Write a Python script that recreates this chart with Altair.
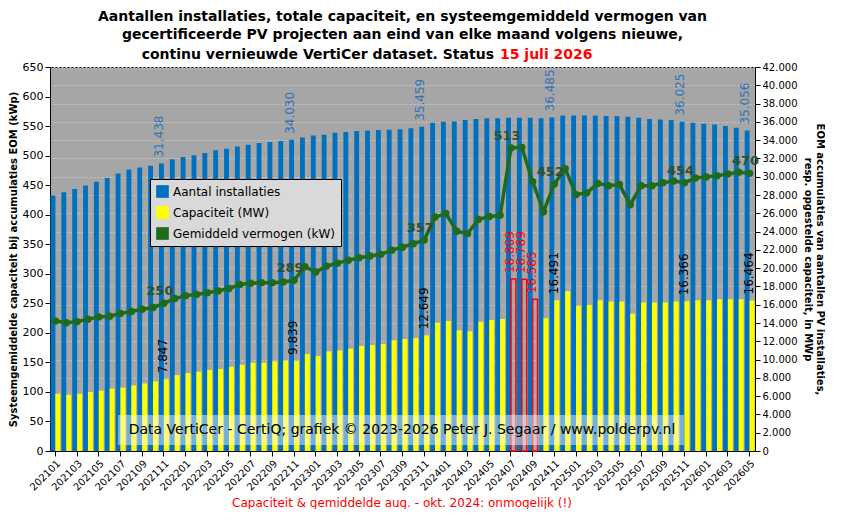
import pandas as pd
import altair as alt

# ── data ──────────────────────────────────────────────────────────────────────
months = [f"{y}{m:02d}" for y in range(2021, 2027) for m in range(1, 13)][:65]

installs = [
    27950, 28300, 28650, 29050, 29450, 29850, 30350, 30800, 31000, 31200, 31438, 31900,
    32150, 32350, 32600, 32900, 33050, 33300, 33500, 33700, 33800, 33900, 34030, 34300,
    34500, 34600, 34800, 34900, 35000, 35050, 35100, 35150, 35200, 35300, 35459, 35900,
    36000, 36050, 36200, 36300, 36400, 36400, 36450, 36450, 36450, 36400, 36485, 36700,
    36700, 36700, 36700, 36650, 36600, 36550, 36450, 36300, 36250, 36200, 36025, 35900,
    35800, 35700, 35550, 35350, 35056,
]

capacity = [
    6260, 6150, 6260, 6450, 6600, 6830, 6940, 7170, 7400, 7620, 7847, 8300,
    8530, 8680, 8870, 8980, 9210, 9430, 9660, 9660, 9810, 9890, 9839, 10600,
    10400, 10900, 11000, 11200, 11500, 11600, 11700, 12100, 12250, 12350, 12649, 14030,
    14220, 13200, 13090, 14150, 14340, 14450, 18809, 18789, 16585, 14530, 16491, 17470,
    15850, 15960, 16490, 16340, 16340, 15020, 16230, 16230, 16230, 16340, 16366, 16490,
    16490, 16600, 16600, 16600, 16464,
]

avg_kw = [
    220, 217, 219, 223, 227, 228, 233, 236, 240, 243, 250, 258,
    263, 265, 268, 271, 275, 282, 284, 285, 285, 286, 289, 312,
    303, 313, 318, 323, 327, 330, 333, 340, 345, 351, 357, 396,
    402, 372, 368, 392, 397, 399, 513, 514, 456, 405, 452, 478,
    434, 437, 453, 449, 451, 417, 449, 449, 454, 457, 454, 462,
    464, 466, 469, 472, 470,
]

unreliable = ["202407", "202408", "202409"]
label_months = ["202111", "202211", "202311", "202411", "202511", "202605"]
line_label_months = label_months + ["202407"]

S_CNT = "Aantal installaties"
S_CAP = "Capaciteit (MW)"
S_AVG = "Gemiddeld vermogen (kW)"

# ── tables ────────────────────────────────────────────────────────────────────
df = pd.DataFrame({"month": months, "installs": installs,
                   "capacity": capacity, "avg": avg_kw})
df["bad"] = df["month"].isin(unreliable)

bars = pd.concat([
    pd.DataFrame({"month": df.month, "value": df.installs, "series": S_CNT, "slot": "a", "bad": False}),
    pd.DataFrame({"month": df.month, "value": df.capacity, "series": S_CAP, "slot": "b", "bad": df.bad}),
], ignore_index=True)
avg_df = df.assign(series=S_AVG)

FONT = "DejaVu Sans"
BLUE, YELLOW, GREEN = "#0070c0", "#ffff00", "#1e6b1e"

colour = alt.Color("series:N",
                   scale=alt.Scale(domain=[S_CNT, S_CAP, S_AVG], range=[BLUE, YELLOW, GREEN]),
                   legend=alt.Legend(title=None, orient="none", legendX=100, legendY=112,
                                     fillColor="#d9d9d9", strokeColor="black", padding=6,
                                     labelFont=FONT, labelFontSize=12, labelColor="black",
                                     symbolType="square", symbolSize=160, symbolStrokeWidth=0,
                                     rowPadding=8, labelLimit=300))

x = alt.X("month:O", title=None, scale=alt.Scale(paddingInner=0.1, paddingOuter=0.05),
          axis=alt.Axis(values=months[::2], labelAngle=-45, labelFont=FONT, labelFontSize=10,
                        labelColor="black", tickColor="black", domainColor="black"))
xoff = alt.XOffset("slot:N", scale=alt.Scale(domain=["a", "b"], paddingInner=0))

y_right = alt.Y("value:Q", scale=alt.Scale(domain=[0, 42000]),
                axis=alt.Axis(orient="right", values=list(range(0, 42001, 2000)),
                              labelExpr="replace(format(datum.value, ','), ',', '.')",
                              labelFont=FONT, labelFontSize=10,
                              labelColor="black", domainColor="black", tickColor="black",
                              grid=True, gridColor="#c8c8c8", gridDash=[2, 2],
                              title=["EOM accumulaties van aantallen PV installaties,",
                                     "resp. opgestelde capaciteit, in MWp"],
                              titleFont=FONT, titleFontSize=10, titleColor="black",
                              titleAngle=90, titlePadding=6))
y_left = alt.Y("avg:Q", scale=alt.Scale(domain=[0, 650]),
               axis=alt.Axis(orient="left", values=list(range(0, 651, 50)), grid=False,
                             labelFont=FONT, labelFontSize=11, labelColor="black",
                             domainColor="black", tickColor="black",
                             title="Systeemgemiddelde capaciteit bij accumulaties EOM (kWp)",
                             titleFont=FONT, titleFontSize=10, titleColor="black"))

base_bars = alt.Chart(bars)
bar_layer = base_bars.transform_filter("!datum.bad").mark_bar().encode(
    x=x, xOffset=xoff, y=y_right, color=colour)
red_layer = base_bars.transform_filter("datum.bad").mark_bar(
    fillOpacity=0, stroke="red", strokeWidth=1.5).encode(x=x, xOffset=xoff, y=y_right)

cnt_text = base_bars.transform_filter(
    alt.FieldOneOfPredicate(field="month", oneOf=label_months)
).transform_filter(f"datum.series == '{S_CNT}'").transform_calculate(
    lbl="replace(format(datum.value, ','), ',', '.')"
).mark_text(angle=270, align="left", baseline="middle", dx=6, dy=-2,
            font=FONT, fontSize=12, color="#2e75b6").encode(
    x=x, xOffset=xoff, y=y_right, text="lbl:N")

cap_text = base_bars.transform_filter(
    alt.FieldOneOfPredicate(field="month", oneOf=label_months + unreliable)
).transform_filter(f"datum.series == '{S_CAP}'").transform_calculate(
    lbl="replace(format(datum.value, ','), ',', '.')"
).mark_text(angle=270, align="left", baseline="middle", dx=6, dy=-3,
            font=FONT, fontSize=12).encode(
    x=x, xOffset=xoff, y=y_right, text="lbl:N",
    color=alt.condition("datum.bad", alt.value("red"), alt.value("black")))

line = alt.Chart(avg_df).mark_line(strokeWidth=3.5, point=alt.OverlayMarkDef(
    filled=True, size=55, color=GREEN)).encode(x=x, y=y_left, color=colour)
line_text = alt.Chart(avg_df).transform_filter(
    alt.FieldOneOfPredicate(field="month", oneOf=line_label_months)
).mark_text(fontWeight="bold", fontSize=13, font=FONT, color="#2f4f2f", dy=-12, dx=-4).encode(
    x=x, y=y_left, text="avg:Q")

# watermark, last title line and footnote (fixed positions, no data)
one = alt.Chart(df).transform_filter("datum.month == '202101'")
wm_box = one.mark_rect(color="white", opacity=0.45).encode(
    x=alt.value(68), x2=alt.value(634), y=alt.value(348), y2=alt.value(378))
wm_text = one.mark_text(font=FONT, fontSize=14, color="black", align="center").encode(
    x=alt.value(352), y=alt.value(363),
    text=alt.value("Data VertiCer  - CertiQ;  grafiek  © 2023-2026  Peter J. Segaar / www.polderpv.nl"))
t3a = one.mark_text(font=FONT, fontSize=14, fontWeight="bold", color="black", align="right").encode(
    x=alt.value(444), y=alt.value(-12),
    text=alt.value("continu vernieuwde VertiCer dataset. Status"))
t3b = one.mark_text(font=FONT, fontSize=14, fontWeight="bold", color="red", align="left").encode(
    x=alt.value(450), y=alt.value(-12), text=alt.value("15 juli 2026"))
foot = one.mark_text(font=FONT, fontSize=12, color="red", align="center").encode(
    x=alt.value(352), y=alt.value(436),
    text=alt.value("Capaciteit & gemiddelde aug. - okt. 2024: onmogelijk (!)"))

bars_all = alt.layer(bar_layer, red_layer, cnt_text, cap_text)
lines_all = alt.layer(line, line_text)

chart = alt.layer(bars_all, lines_all, wm_box, wm_text, t3a, t3b, foot).resolve_scale(
    y="independent").properties(
    width=705, height=384,
    padding={"left": 0, "top": 2, "right": 0, "bottom": 0},
    title=alt.TitleParams(
        ["Aantallen installaties, totale capaciteit, en systeemgemiddeld vermogen van",
         "gecertificeerde PV projecten aan eind van elke maand volgens nieuwe,"],
        font=FONT, fontSize=14, fontWeight="bold", color="black", anchor="middle",
        lineHeight=18, offset=6),
).configure_view(fill="#a6a6a6", stroke="black")

chart.save("out.html", embed_options={"renderer": "svg", "actions": False})
